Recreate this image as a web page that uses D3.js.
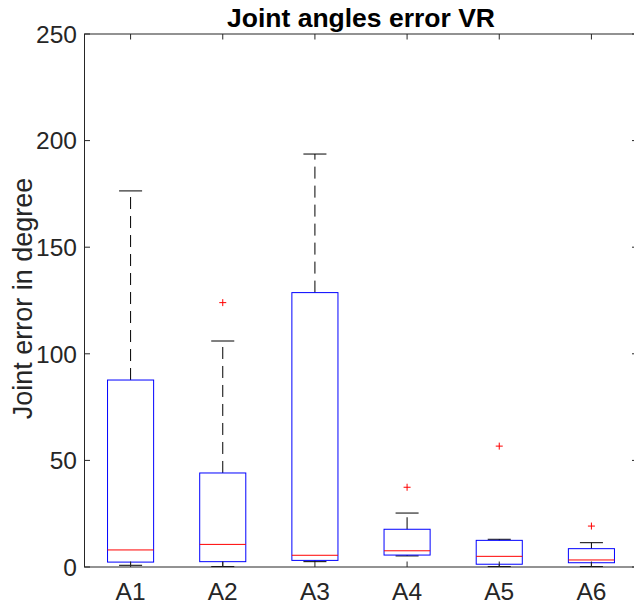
<!DOCTYPE html>
<html>
<head>
<meta charset="utf-8">
<script src="https://cdn.jsdelivr.net/npm/d3@7"></script>
<style>
html,body{margin:0;padding:0;background:#fff;}
svg{display:block;font-family:"Liberation Sans",Arial,Helvetica,sans-serif;}
</style>
</head>
<body>
<svg id="chart" width="634" height="608"></svg>
<script>
const categories = ["A1","A2","A3","A4","A5","A6"];
const upperWhisker = [176.4, 106.0, 193.7, 25.3, 13.0, 11.4];
const q3 = [87.7, 44.1, 128.7, 17.7, 12.5, 8.6];
const medians = [8.0, 10.6, 5.5, 7.6, 5.0, 3.3];
const q1 = [2.3, 2.5, 3.1, 5.6, 1.3, 2.0];
const lowerWhisker = [0.8, 0.2, 2.5, 5.2, 0.2, 0.2];
const outliers = [[], [124.0], [], [37.4], [56.7], [19.2]];
const yTicks = [0, 50, 100, 150, 200, 250];

(function () {
const svg = d3.select("#chart");
const pLeft = 84.5, pRight = 637.5, pTop = 34, pBottom = 567;
const x = d3.scaleLinear().domain([0.5, categories.length + 0.5]).range([pLeft, pRight]);
const y = d3.scaleLinear().domain([0, 250]).range([pBottom, pTop]);
const axisColor = "#262626";
const tickLen = 5.5;
const tickFont = 24.5, labelFont = 27, titleFont = 26.5;

const data = categories.map((c, i) => ({
  c, pos: i + 1, hi: upperWhisker[i], q3: q3[i], med: medians[i], q1: q1[i], lo: lowerWhisker[i], out: outliers[i]
}));

const g = svg.append("g");
const boxW = 0.25, capW = 0.125;

g.selectAll(".wu").data(data).join("line")
  .attr("x1", d => x(d.pos)).attr("x2", d => x(d.pos))
  .attr("y1", d => y(d.q3)).attr("y2", d => y(d.hi))
  .attr("stroke", "#000").attr("stroke-width", 1).attr("stroke-dasharray", "12,7");
g.selectAll(".wl").data(data).join("line")
  .attr("x1", d => x(d.pos)).attr("x2", d => x(d.pos))
  .attr("y1", d => y(d.q1)).attr("y2", d => y(d.lo))
  .attr("stroke", "#000").attr("stroke-width", 1).attr("stroke-dasharray", "12,7");
g.selectAll(".cu").data(data).join("line")
  .attr("x1", d => x(d.pos - capW)).attr("x2", d => x(d.pos + capW))
  .attr("y1", d => y(d.hi)).attr("y2", d => y(d.hi))
  .attr("stroke", "#000").attr("stroke-width", 1);
g.selectAll(".cl").data(data).join("line")
  .attr("x1", d => x(d.pos - capW)).attr("x2", d => x(d.pos + capW))
  .attr("y1", d => y(d.lo)).attr("y2", d => y(d.lo))
  .attr("stroke", "#000").attr("stroke-width", 1);
g.selectAll(".box").data(data).join("rect")
  .attr("x", d => x(d.pos - boxW)).attr("width", d => x(d.pos + boxW) - x(d.pos - boxW))
  .attr("y", d => y(d.q3)).attr("height", d => y(d.q1) - y(d.q3))
  .attr("fill", "none").attr("stroke", "#0000ff").attr("stroke-width", 1);
g.selectAll(".med").data(data).join("line")
  .attr("x1", d => x(d.pos - boxW)).attr("x2", d => x(d.pos + boxW))
  .attr("y1", d => y(d.med)).attr("y2", d => y(d.med))
  .attr("stroke", "#ff0000").attr("stroke-width", 1);
const outPts = data.flatMap(d => d.out.map(v => ({pos: d.pos, v})));
const os = 3.5;
g.selectAll(".out").data(outPts).join("path")
  .attr("d", d => `M${x(d.pos)-os},${y(d.v)}H${x(d.pos)+os}M${x(d.pos)},${y(d.v)-os}V${y(d.v)+os}`)
  .attr("stroke", "#ff0000").attr("stroke-width", 1).attr("fill", "none");

const ax = svg.append("g");
ax.append("rect").attr("x", pLeft).attr("y", pTop).attr("width", pRight - pLeft).attr("height", pBottom - pTop)
  .attr("fill", "none").attr("stroke", axisColor).attr("stroke-width", 1);

yTicks.forEach(t => {
  ax.append("line").attr("x1", pLeft).attr("x2", pLeft + tickLen).attr("y1", y(t)).attr("y2", y(t))
    .attr("stroke", axisColor).attr("stroke-width", 1);
  ax.append("line").attr("x1", pRight).attr("x2", pRight - tickLen).attr("y1", y(t)).attr("y2", y(t))
    .attr("stroke", axisColor).attr("stroke-width", 1);
  ax.append("text").attr("x", pLeft - 7.5).attr("y", y(t)).attr("dy", "0.36em")
    .attr("text-anchor", "end").attr("font-size", tickFont).attr("fill", axisColor).text(t);
});
data.forEach(d => {
  ax.append("line").attr("x1", x(d.pos)).attr("x2", x(d.pos)).attr("y1", pBottom).attr("y2", pBottom - tickLen)
    .attr("stroke", axisColor).attr("stroke-width", 1);
  ax.append("line").attr("x1", x(d.pos)).attr("x2", x(d.pos)).attr("y1", pTop).attr("y2", pTop + tickLen)
    .attr("stroke", axisColor).attr("stroke-width", 1);
  ax.append("text").attr("x", x(d.pos)).attr("y", 600)
    .attr("text-anchor", "middle").attr("font-size", tickFont).attr("fill", axisColor).text(d.c);
});

svg.append("text").attr("x", (pLeft + pRight) / 2).attr("y", 27)
  .attr("text-anchor", "middle").attr("font-size", titleFont).attr("font-weight", "bold").attr("fill", "#000")
  .text("Joint angles error VR");
svg.append("text").attr("transform", `translate(32,${(pTop + pBottom) / 2 - 2}) rotate(-90)`)
  .attr("text-anchor", "middle").attr("font-size", labelFont).attr("fill", axisColor)
  .text("Joint error in degree");
})();
</script>
</body>
</html>
